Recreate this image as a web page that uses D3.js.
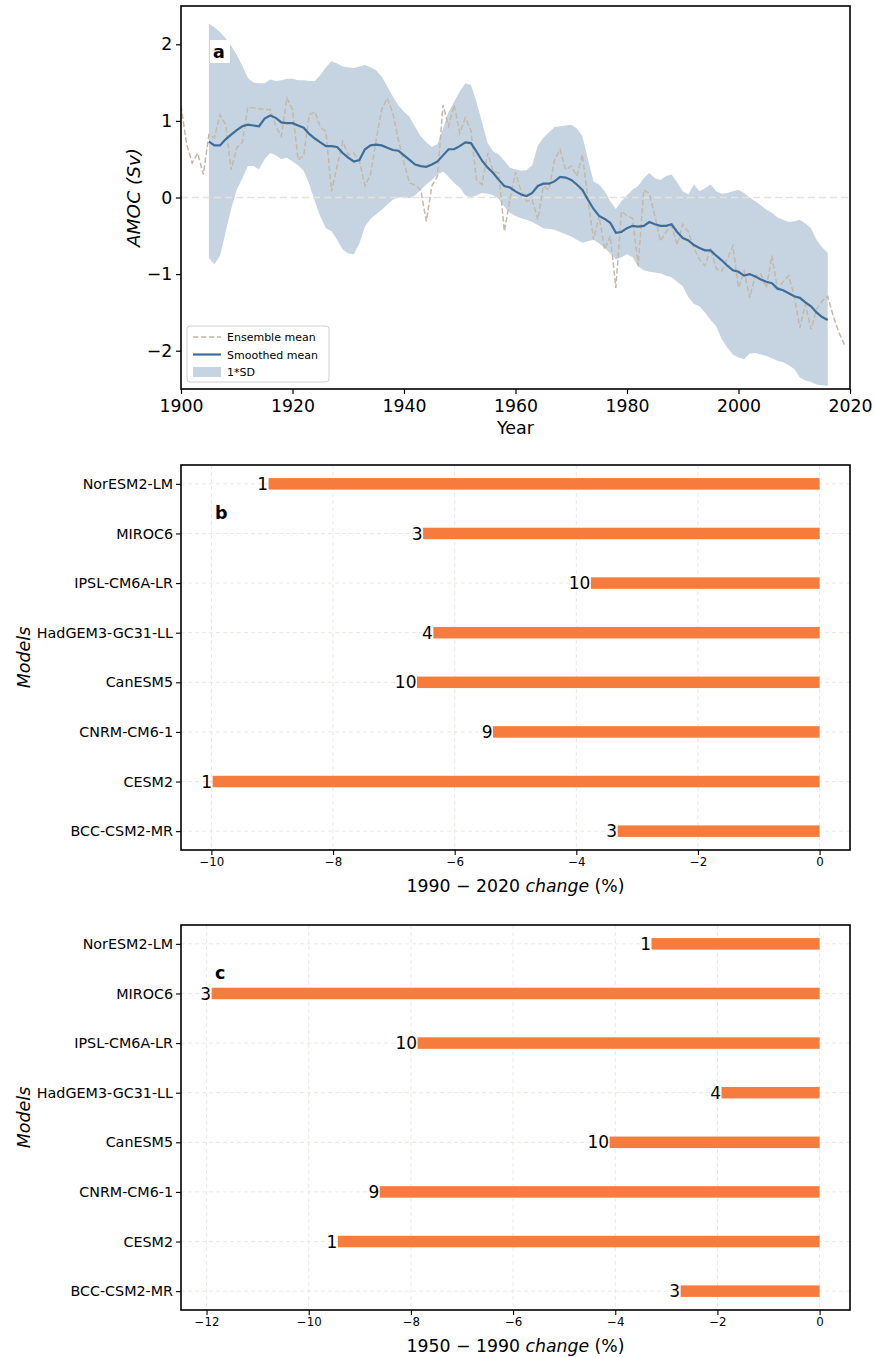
<!DOCTYPE html>
<html><head><meta charset="utf-8">
<script src="https://cdn.jsdelivr.net/npm/d3@7"></script>
<style>body{margin:0;background:#fff}svg{display:block;font-family:"DejaVu Sans",sans-serif}</style>
</head><body><svg id="c" width="875" height="1357"></svg>
<script>
// ---------- Panel a data ----------
const ensStart = 1900;
const ensembleMean = [1.2,0.7,0.45,0.58,0.3,0.82,0.78,1.08,0.95,0.36,0.65,0.72,1.18,1.17,1.16,1.15,1.15,0.93,0.8,1.3,
1.15,0.49,0.55,1.08,1.12,0.92,0.86,0.08,0.41,0.73,0.56,0.58,0.48,0.15,0.3,0.75,1.15,1.3,1.1,0.75,
0.45,0.19,0.16,0.1,-0.31,0.15,0.28,1.21,0.93,1.21,0.84,1.04,0.88,0.23,0.17,0.58,0.34,0.32,-0.44,-0.03,
0.33,0.08,-0.05,-0.03,-0.29,0.15,0.1,0.49,0.63,0.36,0.41,0.28,0.56,-0.03,-0.55,-0.24,-0.68,-0.5,-1.18,-0.18,
-0.24,-0.27,-0.89,0.1,0.05,-0.24,-0.57,-0.45,-0.37,-0.62,-0.35,-0.45,-0.66,-0.81,-0.89,-0.66,-0.93,-0.96,-0.8,-0.63,
-1.18,-0.96,-1.31,-1.02,-1.0,-1.18,-0.76,-1.2,-1.1,-1.02,-1.29,-1.7,-1.39,-1.72,-1.46,-1.35,-1.29,-1.55,-1.76,-1.92];
const smStart = 1905;
const smoothedMean = [0.73,0.68,0.68,0.76,0.82,0.88,0.93,0.95,0.94,0.93,1.03,1.07,1.04,0.98,0.97,0.97,
0.94,0.91,0.83,0.77,0.72,0.67,0.67,0.66,0.58,0.52,0.47,0.49,0.63,0.68,0.69,0.68,0.65,0.62,0.61,0.55,
0.49,0.43,0.41,0.40,0.43,0.47,0.55,0.63,0.63,0.67,0.72,0.71,0.60,0.48,0.39,0.32,0.23,0.15,0.13,0.08,
0.04,0.02,0.06,0.15,0.18,0.18,0.21,0.27,0.26,0.23,0.17,0.10,-0.03,-0.15,-0.24,-0.28,-0.33,-0.46,-0.45,-0.40,
-0.37,-0.38,-0.37,-0.32,-0.35,-0.37,-0.37,-0.35,-0.45,-0.53,-0.56,-0.62,-0.66,-0.69,-0.69,-0.76,-0.82,-0.89,-0.95,-0.97,
-1.02,-1.0,-1.03,-1.07,-1.10,-1.12,-1.19,-1.21,-1.25,-1.29,-1.31,-1.37,-1.42,-1.50,-1.56,-1.60];
const sdUpper = [2.27,2.22,2.16,2.08,1.98,1.86,1.72,1.56,1.50,1.49,1.49,1.54,1.52,1.53,1.55,1.55,
1.53,1.53,1.52,1.52,1.6,1.7,1.78,1.75,1.71,1.70,1.69,1.71,1.73,1.70,1.66,1.58,1.45,1.32,1.2,1.12,
1.05,0.92,0.8,0.72,0.66,0.70,0.9,1.12,1.25,1.38,1.49,1.47,1.25,0.98,0.71,0.6,0.56,0.48,0.39,0.37,
0.35,0.36,0.42,0.68,0.78,0.85,0.92,0.93,0.94,0.95,0.9,0.8,0.5,0.21,0.17,0.08,-0.05,-0.15,-0.05,0.03,
0.1,0.15,0.25,0.32,0.25,0.23,0.28,0.30,0.2,0.08,0.04,0.17,0.08,0.12,0.17,0.08,0.05,0.06,0.08,0.10,
0.06,0.0,-0.05,-0.1,-0.16,-0.2,-0.26,-0.29,-0.32,-0.31,-0.29,-0.34,-0.40,-0.55,-0.65,-0.72];
const sdLower = [-0.79,-0.87,-0.76,-0.45,-0.15,0.1,0.25,0.41,0.41,0.37,0.5,0.58,0.55,0.5,0.52,0.47,
0.42,0.35,0.18,-0.05,-0.25,-0.4,-0.44,-0.55,-0.68,-0.73,-0.74,-0.6,-0.38,-0.28,-0.22,-0.16,-0.09,-0.03,0.0,0.01,
-0.01,0.03,0.1,0.17,0.23,0.3,0.34,0.27,0.19,0.13,0.03,0.0,0.03,0.06,0.05,0.03,-0.02,-0.12,-0.2,-0.24,
-0.27,-0.29,-0.32,-0.36,-0.40,-0.41,-0.42,-0.45,-0.48,-0.51,-0.55,-0.59,-0.57,-0.55,-0.6,-0.66,-0.73,-0.81,-0.78,-0.74,
-0.78,-0.9,-0.95,-0.97,-0.98,-0.99,-1.02,-1.04,-1.1,-1.16,-1.3,-1.39,-1.42,-1.5,-1.6,-1.68,-1.85,-1.96,-2.05,-2.09,
-2.11,-2.04,-2.03,-2.05,-2.07,-2.1,-2.13,-2.15,-2.19,-2.24,-2.35,-2.39,-2.41,-2.44,-2.45,-2.46];
const yearTicks = [1900,1920,1940,1960,1980,2000,2020];
const amocTicks = [-2,-1,0,1,2];

// ---------- Panels b, c data ----------
const models = ["NorESM2-LM","MIROC6","IPSL-CM6A-LR","HadGEM3-GC31-LL","CanESM5","CNRM-CM6-1","CESM2","BCC-CSM2-MR"];
const members = [1,3,10,4,10,9,1,3];
const change1990_2020 = [-9.06,-6.52,-3.76,-6.35,-6.62,-5.37,-9.98,-3.32];
const change1950_1990 = [-3.29,-11.9,-7.87,-1.92,-4.11,-8.61,-9.43,-2.72];
const ticksB = [-10,-8,-6,-4,-2,0];
const ticksC = [-12,-10,-8,-6,-4,-2,0];

const svg = d3.select("#c");
const FONT = "DejaVu Sans, sans-serif";
const fmt = d => (d < 0 ? "\u2212" + Math.abs(d) : String(d));

// ===== Panel a =====
(function(){
  const L=181,R=850,T=6,B=389;
  const x = d3.scaleLinear().domain([1900,2020]).range([L,R]);
  const y = d3.scaleLinear().domain([-2.5,2.5]).range([B,T]);
  const g = svg.append("g");
  g.append("defs").append("clipPath").attr("id","clipA").append("rect").attr("x",L).attr("y",T).attr("width",R-L).attr("height",B-T);
  const pg = g.append("g").attr("clip-path","url(#clipA)");
  const band = smoothedMean.map((v,i)=>({yr:smStart+i, lo:sdLower[i], hi:sdUpper[i]}));
  pg.append("path").datum(band).attr("fill","#c6d4e1")
    .attr("d", d3.area().x(d=>x(d.yr)).y0(d=>y(d.lo)).y1(d=>y(d.hi)));
  pg.append("line").attr("x1",L).attr("x2",R).attr("y1",y(0)).attr("y2",y(0))
    .attr("stroke","#e7e1d9").attr("stroke-width",1.6).attr("stroke-dasharray","7,4");
  pg.append("path").datum(ensembleMean.map((v,i)=>[ensStart+i,v])).attr("fill","none")
    .attr("stroke","#c3b8a9").attr("stroke-width",1.5).attr("stroke-dasharray","5.5,2.5")
    .attr("d", d3.line().x(d=>x(d[0])).y(d=>y(d[1])));
  pg.append("path").datum(smoothedMean.map((v,i)=>[smStart+i,v])).attr("fill","none")
    .attr("stroke","#3f6d9a").attr("stroke-width",2.2)
    .attr("d", d3.line().x(d=>x(d[0])).y(d=>y(d[1])));
  // axes
  const xa = g.append("g").attr("transform",`translate(0,${B})`)
    .call(d3.axisBottom(x).tickValues(yearTicks).tickFormat(d3.format("d")).tickSizeOuter(0).tickSize(5));
  xa.selectAll("text").attr("font-size",17.3).attr("font-family",FONT).attr("fill","#000").attr("dy","0.85em");
  const ya = g.append("g").attr("transform",`translate(${L},0)`)
    .call(d3.axisLeft(y).tickValues(amocTicks).tickFormat(fmt).tickSizeOuter(0).tickSize(5));
  ya.selectAll("text").attr("font-size",17.3).attr("font-family",FONT).attr("fill","#000").attr("dx","-0.05em");
  [xa,ya].forEach(a=>{a.select(".domain").remove();a.selectAll("line").attr("stroke","#000").attr("stroke-width",1.2);});
  g.append("rect").attr("x",L).attr("y",T).attr("width",R-L).attr("height",B-T).attr("fill","none").attr("stroke","#000").attr("stroke-width",1.6);
  g.append("text").attr("x",(L+R)/2).attr("y",434).attr("text-anchor","middle").attr("font-size",17.5).attr("font-family",FONT).text("Year");
  g.append("text").attr("transform",`translate(140,${(T+B)/2}) rotate(-90)`).attr("text-anchor","middle")
    .attr("font-size",18.5).attr("font-style","italic").attr("font-family",FONT).text("AMOC (Sv)");
  // label a
  g.append("rect").attr("x",210).attr("y",40).attr("width",20).attr("height",23).attr("fill","#fff");
  g.append("text").attr("x",213).attr("y",58).attr("font-size",17.5).attr("font-weight","bold").attr("font-family",FONT).text("a");
  // legend
  const lg = g.append("g").attr("transform","translate(187,326)");
  lg.append("rect").attr("width",142).attr("height",56).attr("rx",3).attr("fill","#fff").attr("fill-opacity",0.85).attr("stroke","#d0d0d0");
  const items=[{t:"Ensemble mean",k:"dash"},{t:"Smoothed mean",k:"line"},{t:"1*SD",k:"patch"}];
  items.forEach((it,i)=>{
    const cy = 11+i*17.5;
    if(it.k==="dash") lg.append("line").attr("x1",6).attr("x2",34).attr("y1",cy).attr("y2",cy).attr("stroke","#c3b8a9").attr("stroke-width",1.5).attr("stroke-dasharray","5.5,2.5");
    if(it.k==="line") lg.append("line").attr("x1",6).attr("x2",34).attr("y1",cy).attr("y2",cy).attr("stroke","#3f6d9a").attr("stroke-width",2.2);
    if(it.k==="patch") lg.append("rect").attr("x",6).attr("y",cy-5).attr("width",28).attr("height",10).attr("fill","#c6d4e1");
    lg.append("text").attr("x",40).attr("y",cy+4).attr("font-size",11).attr("font-family",FONT).text(it.t);
  });
})();

// ===== Panels b & c =====
function barPanel(T,B,domain,ticks,vals,label,xlab,xlabY){
  const L=181,R=850;
  const x = d3.scaleLinear().domain(domain).range([L,R]);
  const y = d3.scaleLinear().domain([-0.38,models.length-1+0.38]).range([T,B]);
  const g = svg.append("g");
  const grid = g.append("g");
  ticks.forEach(t=>grid.append("line").attr("x1",x(t)).attr("x2",x(t)).attr("y1",T).attr("y2",B));
  models.forEach((m,i)=>grid.append("line").attr("x1",L).attr("x2",R).attr("y1",y(i)).attr("y2",y(i)));
  grid.selectAll("line").attr("stroke","#e6e6e0").attr("stroke-width",0.9).attr("stroke-dasharray","4,3");
  const bh = 11.5;
  g.selectAll("rect.bar").data(vals).join("rect").attr("class","bar")
    .attr("x",d=>x(d)).attr("width",d=>x(0)-x(d)).attr("y",(d,i)=>y(i)-bh/2).attr("height",bh).attr("fill","#f57c3c");
  g.selectAll("text.num").data(vals).join("text").attr("class","num")
    .attr("x",d=>x(d)-0.5).attr("y",(d,i)=>y(i)).attr("dy","0.36em").attr("text-anchor","end")
    .attr("font-size",17).attr("font-family",FONT).text((d,i)=>members[i]);
  const xa = g.append("g").attr("transform",`translate(0,${B})`)
    .call(d3.axisBottom(x).tickValues(ticks).tickFormat(fmt).tickSizeOuter(0).tickSize(5));
  xa.selectAll("text").attr("font-size",11.8).attr("font-family",FONT).attr("fill","#000");
  const ya = g.append("g").attr("transform",`translate(${L},0)`)
    .call(d3.axisLeft(y).tickValues(d3.range(models.length)).tickFormat(i=>models[i]).tickSizeOuter(0).tickSize(5));
  ya.selectAll("text").attr("font-size",14.3).attr("font-family",FONT).attr("fill","#000");
  [xa,ya].forEach(a=>{a.select(".domain").remove();a.selectAll("line").attr("stroke","#000").attr("stroke-width",1.1);});
  g.append("rect").attr("x",L).attr("y",T).attr("width",R-L).attr("height",B-T).attr("fill","none").attr("stroke","#000").attr("stroke-width",1.6);
  g.append("text").attr("x",215).attr("y",T+54).attr("font-size",17.5).attr("font-weight","bold").attr("font-family",FONT).text(label);
  g.append("text").attr("transform",`translate(30,${(T+B)/2}) rotate(-90)`).attr("text-anchor","middle")
    .attr("font-size",17.5).attr("font-style","italic").attr("font-family",FONT).text("Models");
  const xl = g.append("text").attr("x",(L+R)/2).attr("y",xlabY).attr("text-anchor","middle").attr("font-size",17.3).attr("font-family",FONT);
  xl.append("tspan").text(xlab+" ");
  xl.append("tspan").attr("font-style","italic").text("change");
  xl.append("tspan").text(" (%)");
}
barPanel(465,850,[-10.5,0.5],ticksB,change1990_2020,"b","1990 \u2212 2020",892);
barPanel(925,1310,[-12.5,0.595],ticksC,change1950_1990,"c","1950 \u2212 1990",1352);
</script></body></html>
